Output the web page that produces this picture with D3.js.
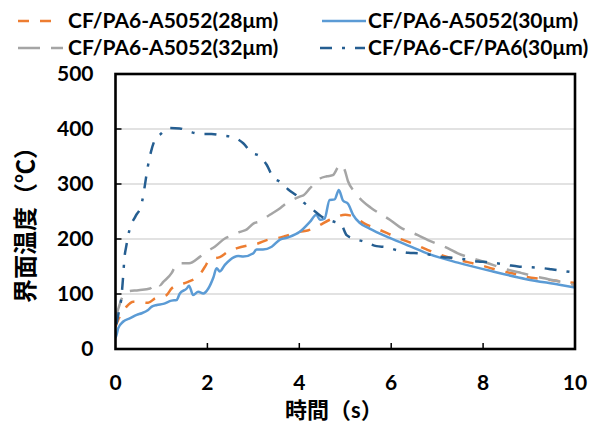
<!DOCTYPE html>
<html>
<head>
<meta charset="utf-8">
<script src="https://cdn.jsdelivr.net/npm/d3@7"></script>
<style>
  body { margin: 0; background: #fff; }
  text { font-family: Lato, "Noto Sans CJK JP", sans-serif; font-weight: bold; fill: #000; }
</style>
</head>
<body>
<div id="wrapper"></div>
<script>
// data: time (s) and interface temperature (°C)
const seriesNames = [
  "CF/PA6-A5052(28μm)",
  "CF/PA6-A5052(30μm)",
  "CF/PA6-A5052(32μm)",
  "CF/PA6-CF/PA6(30μm)",
]

const t28 = [0, 0.03, 0.24, 0.39, 0.55, 0.71, 0.86, 1.11, 1.22, 1.4, 1.58, 1.84, 1.95, 2.05, 2.27, 2.45, 2.63, 2.92, 3.07, 3.29, 3.54, 3.68, 4.01, 4.2, 4.37, 4.66, 4.77, 5.0, 5.1, 5.24, 5.42, 5.68, 5.9, 6.11, 6.33, 6.55, 6.77, 6.98, 7.2, 7.42, 7.71, 7.92, 8.21, 8.43, 8.72, 8.94, 9.3, 9.59, 10]
const v28 = [40, 47, 77, 86, 85, 84, 92, 98, 110, 117, 122, 136, 150, 163, 167, 177, 183, 189, 191, 198, 202, 205, 213, 216, 222, 235, 239, 244, 243, 238, 228, 219, 211, 203, 196, 189, 181, 174, 168, 163, 157, 153, 146, 141, 136, 131, 127, 124, 120]

const t30 = [0, 0.03, 0.06, 0.17, 0.32, 0.46, 0.57, 0.71, 0.79, 0.9, 1.04, 1.22, 1.33, 1.4, 1.55, 1.6, 1.69, 1.8, 1.91, 2.02, 2.13, 2.2, 2.27, 2.38, 2.49, 2.67, 2.78, 3.0, 3.07, 3.21, 3.4, 3.58, 3.76, 4.01, 4.23, 4.37, 4.45, 4.55, 4.66, 4.77, 4.86, 4.95, 5.06, 5.17, 5.32, 5.53, 5.97, 6.4, 6.84, 7.45, 8.21, 8.94, 9.66, 10]
const v30 = [20, 28, 38, 50, 56, 62, 65, 71, 77, 80, 82, 88, 89, 101, 110, 115, 98, 104, 101, 110, 130, 147, 141, 153, 162, 169, 168, 174, 181, 181, 186, 199, 203, 213, 231, 244, 235, 237, 271, 272, 289, 270, 264, 244, 229, 219, 202, 187, 172, 157, 141, 127, 117, 112]

const t32 = [0, 0.05, 0.17, 0.24, 0.5, 0.75, 0.9, 0.97, 1.04, 1.22, 1.3, 1.37, 1.6, 1.84, 2.0, 2.16, 2.38, 2.55, 2.71, 2.85, 3.0, 3.14, 3.36, 3.55, 3.72, 3.85, 4.01, 4.1, 4.23, 4.45, 4.6, 4.73, 4.84, 4.92, 4.99, 5.06, 5.2, 5.39, 5.57, 5.97, 6.18, 6.58, 6.8, 7.24, 7.45, 7.89, 8.14, 8.5, 8.84, 9.3, 9.59, 10]
const v32 = [55, 70, 98, 104, 107, 110, 121, 116, 122, 138, 150, 156, 156, 168, 178, 186, 201, 207, 213, 217, 228, 232, 244, 254, 265, 271, 277, 280, 292, 310, 314, 316, 330, 335, 325, 305, 286, 268, 256, 235, 222, 207, 198, 183, 174, 162, 155, 145, 138, 129, 124, 116]

const tCF = [0.02, 0.06, 0.13, 0.16, 0.2, 0.23, 0.3, 0.44, 0.55, 0.6, 0.64, 0.7, 0.77, 0.84, 0.9, 0.97, 1.16, 1.4, 1.62, 1.85, 2.09, 2.34, 2.56, 2.78, 2.96, 3.13, 3.29, 3.43, 3.58, 3.76, 3.97, 4.1, 4.3, 4.48, 4.7, 4.92, 5.03, 5.21, 5.42, 5.68, 5.9, 6.11, 6.37, 6.62, 6.87, 7.13, 7.34, 7.6, 7.89, 8.07, 8.29, 8.58, 8.76, 9.01, 9.3, 9.48, 9.73, 10]
const vCF = [45, 62, 95, 125, 170, 185, 215, 242, 259, 277, 298, 330, 358, 377, 386, 390, 402, 401, 395, 391, 391, 388, 385, 374, 357, 351, 335, 312, 304, 290, 277, 266, 253, 241, 233, 225, 207, 200, 195, 187, 185, 180, 175, 174, 171, 167, 166, 163, 159, 158, 156, 152, 150, 149, 147, 145, 142, 139]

const xTicks = [0, 2, 4, 6, 8, 10]
const yTicks = [0, 100, 200, 300, 400, 500]

const series = [
  { name: seriesNames[0], t: t28, v: v28, color: "#ED7D31", dash: "11,11" },
  { name: seriesNames[1], t: t30, v: v30, color: "#5B9BD5", dash: null },
  { name: seriesNames[2], t: t32, v: v32, color: "#A5A5A5", dash: "22,11" },
  { name: seriesNames[3], t: tCF, v: vCF, color: "#255E91", dash: "12,10,3,10" },
]

const width = 595
const height = 427
const margin = { top: 74, right: 20, bottom: 78, left: 115.5 }

const svg = d3.select("#wrapper").append("svg")
  .attr("width", width)
  .attr("height", height)

const x = d3.scaleLinear().domain([0, 10]).range([margin.left, width - margin.right])
const y = d3.scaleLinear().domain([0, 500]).range([height - margin.bottom, margin.top])

// grid
svg.append("g")
  .selectAll("line")
  .data(yTicks.filter(d => d > 0 && d < 500))
  .join("line")
  .attr("x1", x(0)).attr("x2", x(10))
  .attr("y1", d => y(d)).attr("y2", d => y(d))
  .attr("stroke", "#d9d9d9")
  .attr("stroke-width", 1.3)

svg.append("clipPath").attr("id", "clip")
  .append("rect")
  .attr("x", x(0)).attr("y", y(500))
  .attr("width", x(10) - x(0)).attr("height", y(0) - y(500))

const line = d3.line()
  .x(d => x(d[0]))
  .y(d => y(d[1]))
  .curve(d3.curveMonotoneX)

const lines = svg.append("g").attr("clip-path", "url(#clip)")
series.forEach(s => {
  lines.append("path")
    .attr("d", line(s.t.map((t, i) => [t, s.v[i]])))
    .attr("fill", "none")
    .attr("stroke", s.color)
    .attr("stroke-width", 2.5)
    .attr("stroke-dasharray", s.dash)
})

// frame + inward ticks
svg.append("rect")
  .attr("x", x(0)).attr("y", y(500))
  .attr("width", x(10) - x(0)).attr("height", y(0) - y(500))
  .attr("fill", "none")
  .attr("stroke", "#000")
  .attr("stroke-width", 2.6)

svg.append("g")
  .selectAll("line")
  .data(xTicks.filter(d => d > 0 && d < 10))
  .join("line")
  .attr("x1", d => x(d)).attr("x2", d => x(d))
  .attr("y1", y(0)).attr("y2", y(0) - 6)
  .attr("stroke", "#000").attr("stroke-width", 1.5)

svg.append("g")
  .selectAll("line")
  .data(yTicks.filter(d => d > 0 && d < 500))
  .join("line")
  .attr("x1", x(0)).attr("x2", x(0) + 6)
  .attr("y1", d => y(d)).attr("y2", d => y(d))
  .attr("stroke", "#000").attr("stroke-width", 1.5)

// tick labels
svg.append("g")
  .selectAll("text")
  .data(xTicks)
  .join("text")
  .attr("x", d => x(d))
  .attr("y", y(0) + 34)
  .attr("dy", "0.35em")
  .attr("text-anchor", "middle")
  .style("font-size", "21px")
  .text(d => d)

svg.append("g")
  .selectAll("text")
  .data(yTicks)
  .join("text")
  .attr("x", x(0) - 22)
  .attr("y", d => y(d))
  .attr("dy", "0.35em")
  .attr("text-anchor", "end")
  .style("font-size", "21px")
  .text(d => d)

// axis titles
svg.append("text")
  .attr("x", 285)
  .attr("y", 418)
  .style("font-size", "22px")
  .text("時間（s）")

svg.append("text")
  .attr("transform", `translate(34, 219) rotate(-90)`)
  .attr("text-anchor", "middle")
  .style("font-size", "24px")
  .text("界面温度（℃）")

// legend
const legendPos = [
  { lx: 18, tx: 68, ty: 21, len: 44 },
  { lx: 322, tx: 368, ty: 21, len: 44 },
  { lx: 18, tx: 68, ty: 48, len: 45 },
  { lx: 320, tx: 368, ty: 48, len: 45 },
]
const legend = svg.append("g")
series.forEach((s, i) => {
  const p = legendPos[i]
  legend.append("line")
    .attr("x1", p.lx).attr("x2", p.lx + p.len)
    .attr("y1", p.ty).attr("y2", p.ty)
    .attr("stroke", s.color)
    .attr("stroke-width", 2.5)
    .attr("stroke-dasharray", s.dash)
  legend.append("text")
    .attr("x", p.tx)
    .attr("y", p.ty)
    .attr("dy", "0.35em")
    .style("font-size", "21px")
    .text(s.name)
})
</script>
</body>
</html>
